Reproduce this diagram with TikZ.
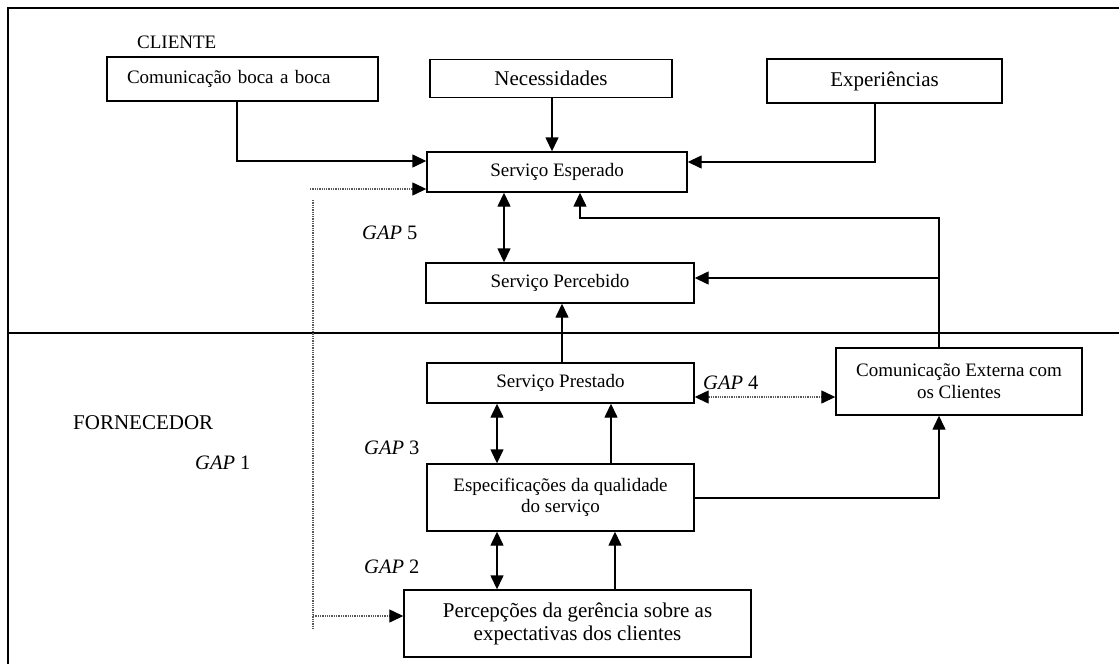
\documentclass[tikz,border=0pt]{standalone}
\usepackage{fontspec}
\setmainfont{Liberation Serif}
\usetikzlibrary{arrows.meta}
\begin{document}
\begin{tikzpicture}[x=1pt,y=-1pt,
  box/.style={draw, line width=1.4pt, inner sep=0pt, align=center,
              font=\fontsize{19}{21}\selectfont},
  bigtext/.style={font=\fontsize{21}{23}\selectfont},
  tip/.tip={Triangle[length=14pt,width=13pt,color=black]},
  arr/.style={line width=1.4pt, -tip},
  darr/.style={line width=1.4pt, tip-tip},
  dotline/.style={densely dotted, line width=1.3pt, black!65},
  gap/.style={anchor=west, inner sep=0pt, font=\fontsize{20.5}{22}\selectfont},
  lbl/.style={anchor=west, inner sep=0pt},
]
\useasboundingbox (0,0) rectangle (1119,664);

% frame and the client / supplier divider
\draw[line width=1.4pt] (1119,8) -- (8,8) -- (8,664);
\draw[line width=1.4pt] (8,333) -- (1119,333);

% region titles
\node[lbl, font=\fontsize{19}{21}\selectfont] (cliente) at (137,42) {CLIENTE};
\node[lbl, font=\fontsize{21}{23}\selectfont] (fornecedor) at (73,423) {FORNECEDOR};

% boxes
\node[box, text width=231pt, inner xsep=20pt, align=left, minimum height=44pt]
  (boca) at (242.5,79) {Comunicação boca a boca};
\node[box, bigtext, minimum width=242pt, minimum height=38pt] (nec) at (551,78.5) {Necessidades};
\node[box, bigtext, minimum width=235pt, minimum height=44pt] (exp) at (884.5,81) {Experiências};
\node[box, minimum width=260pt, minimum height=40pt] (esp) at (557,172) {Serviço Esperado};
\node[box, minimum width=268pt, minimum height=40pt] (perc) at (560,283) {Serviço Percebido};
\node[box, minimum width=267pt, minimum height=40pt] (prest) at (560.5,383) {Serviço Prestado};
\node[box, minimum width=267pt, minimum height=67pt] (espec) at (560.5,497.5)
  {Especificações da qualidade\\do serviço};
\node[box, bigtext, minimum width=347pt, minimum height=67pt] (perg) at (577.5,623.5)
  {Percepções da gerência sobre as\\expectativas dos clientes};
\node[box, font=\fontsize{19}{22}\selectfont, minimum width=246pt, minimum height=67pt]
  (comext) at (959,381.5) {Comunicação Externa com\\os Clientes};

% gap labels
\node[gap] (g5) at (362,233) {\textit{GAP} 5};
\node[gap] (g4) at (703,383) {\textit{GAP} 4};
\node[gap] (g3) at (364,448) {\textit{GAP} 3};
\node[gap] (g2) at (364,567) {\textit{GAP} 2};
\node[gap] (g1) at (195,463) {\textit{GAP} 1};

% routing points
\coordinate (j1) at (939,218);
\coordinate (j2) at (939,278);
\coordinate (d1) at (310,189);
\coordinate (d2) at (313,200);
\coordinate (d3) at (313,628);
\coordinate (d4) at (313,616);

% client side connectors
\draw[arr] (boca.south -| 237,0) |- (esp.west |- 0,161);
\draw[arr] (nec.south -| 552,0) -- (esp.north -| 552,0);
\draw[arr] (exp.south -| 875,0) |- (esp.east |- 0,162);
\draw[darr] (esp.south -| 504,0) -- (perc.north -| 504,0);
\draw[arr] (comext.north -| j1) -- (j1) -| (esp.south -| 580,0);
\draw[arr] (j2) -- (perc.east |- j2);

% supplier side connectors
\draw[arr] (prest.north -| 562,0) -- (perc.south -| 562,0);
\draw[darr] (prest.south -| 497,0) -- (espec.north -| 497,0);
\draw[arr] (espec.north -| 611,0) -- (prest.south -| 611,0);
\draw[arr] (espec.east |- 0,498) -| (comext.south -| j1);
\draw[darr] (espec.south -| 497,0) -- (perg.north -| 497,0);
\draw[arr] (perg.north -| 615,0) -- (espec.south -| 615,0);

% dotted gap connectors
\draw[dotline, tip-tip] (prest.east |- 0,397) -- (comext.west |- 0,397);
\draw[dotline, -tip] (d1) -- (esp.west |- d1);
\draw[dotline] (d2) -- (d3);
\draw[dotline, -tip] (d4) -- (perg.west |- d4);
\end{tikzpicture}
\end{document}
